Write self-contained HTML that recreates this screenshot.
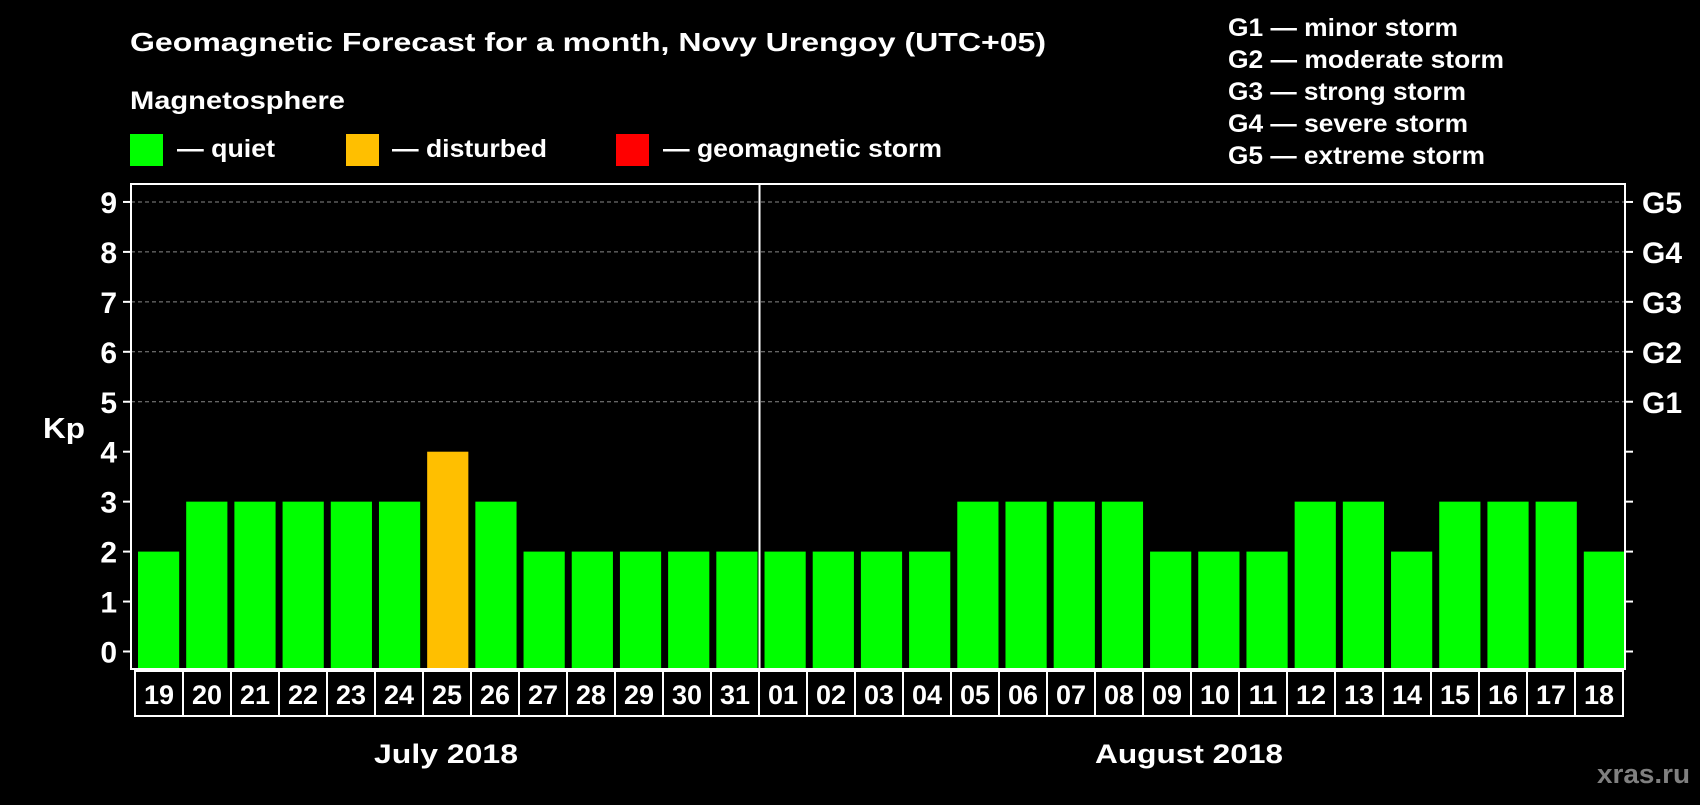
<!DOCTYPE html>
<html><head><meta charset="utf-8"><style>
body{margin:0;background:#000;}
svg text{font-family:"Liberation Sans",Arial,sans-serif;font-weight:bold;fill:#fff;}
</style></head><body>
<svg width="1700" height="800" viewBox="0 0 1700 800">
<text x="130" y="51" font-size="26" textLength="916" lengthAdjust="spacingAndGlyphs">Geomagnetic Forecast for a month, Novy Urengoy (UTC+05)</text>
<text x="130" y="109" font-size="25" textLength="215" lengthAdjust="spacingAndGlyphs">Magnetosphere</text>
<rect x="130" y="134" width="33" height="32" fill="#00ff00"/>
<text x="177" y="157" font-size="25" textLength="98" lengthAdjust="spacingAndGlyphs">— quiet</text>
<rect x="346" y="134" width="33" height="32" fill="#ffbf00"/>
<text x="392" y="157" font-size="25" textLength="155" lengthAdjust="spacingAndGlyphs">— disturbed</text>
<rect x="616" y="134" width="33" height="32" fill="#ff0000"/>
<text x="663" y="157" font-size="25" textLength="279" lengthAdjust="spacingAndGlyphs">— geomagnetic storm</text>
<g font-size="25">
<text x="1228" y="36" textLength="230" lengthAdjust="spacingAndGlyphs">G1 — minor storm</text>
<text x="1228" y="68" textLength="276" lengthAdjust="spacingAndGlyphs">G2 — moderate storm</text>
<text x="1228" y="100" textLength="238" lengthAdjust="spacingAndGlyphs">G3 — strong storm</text>
<text x="1228" y="132" textLength="240" lengthAdjust="spacingAndGlyphs">G4 — severe storm</text>
<text x="1228" y="164" textLength="257" lengthAdjust="spacingAndGlyphs">G5 — extreme storm</text>
</g>
<text x="43" y="438" font-size="29" textLength="42" lengthAdjust="spacingAndGlyphs">Kp</text>
<g id="plot"></g>
<text x="374" y="763" font-size="27" textLength="144" lengthAdjust="spacingAndGlyphs">July 2018</text>
<text x="1095" y="763" font-size="27" textLength="188" lengthAdjust="spacingAndGlyphs">August 2018</text>
<text x="1597" y="783" font-size="27" textLength="93" lengthAdjust="spacingAndGlyphs" style="fill:#808080">xras.ru</text>
</svg>
<script>
const days=["19","20","21","22","23","24","25","26","27","28","29","30","31","01","02","03","04","05","06","07","08","09","10","11","12","13","14","15","16","17","18"];
const kp=[2,3,3,3,3,3,4,3,2,2,2,2,2,2,2,2,2,3,3,3,3,2,2,2,3,3,2,3,3,3,2];
const yTicks=[0,1,2,3,4,5,6,7,8,9];
const gLabels=["G1","G2","G3","G4","G5"];
const gLevels=[5,6,7,8,9];
const L=131,R=1625,T=184,B=669,NS="http://www.w3.org/2000/svg";
const slot=(R-L)/days.length;
const y=v=>651.5-v*49.95;
const x=i=>L+i*slot;
const g=document.getElementById('plot');
function mk(t,a){const e=document.createElementNS(NS,t);for(const k in a)e.setAttribute(k,a[k]);g.appendChild(e);return e;}
yTicks.forEach(v=>{
 if(v>=5){const l=mk('line',{x1:L,x2:R,y1:y(v),y2:y(v),stroke:'#888','stroke-dasharray':'4 3','stroke-width':1});
 
 }
 const t1=mk('line',{x1:L-8,x2:L,y1:y(v),y2:y(v),stroke:'#fff','stroke-width':2});
 
 
 const t2=mk('line',{x1:R,x2:R+8,y1:y(v),y2:y(v),stroke:'#fff','stroke-width':2});
 
 
 const tx=mk('text',{x:L-14,y:y(v)+11,'font-size':30,'text-anchor':'end'});tx.textContent=v;
 
 
});
gLabels.forEach((s,i)=>{const t=mk('text',{x:R+17,y:y(gLevels[i])+11,'font-size':30});t.textContent=s;
 
 });
kp.forEach((v,i)=>{
 const c=v>=5?'#ff0000':v>=4?'#ffbf00':'#00ff00';
 const r=mk('rect',{x:x(i)+7,y:y(v),width:slot-7,height:B-1-y(v),fill:c});
 
 
 const b=mk('rect',{x:135+i*48,y:B+2,width:48,height:45,fill:'none',stroke:'#fff','stroke-width':2});
 
 
 const t=mk('text',{x:135+i*48+24,y:B+35,'font-size':27,'text-anchor':'middle'});t.textContent=days[i];
 
 
});
const fr=mk('rect',{x:L,y:T,width:R-L,height:B-T,fill:'none',stroke:'#fff','stroke-width':2});


const dv=mk('line',{x1:x(13)+2,x2:x(13)+2,y1:T,y2:B,stroke:'#fff','stroke-width':2});


</script>
</body></html>
